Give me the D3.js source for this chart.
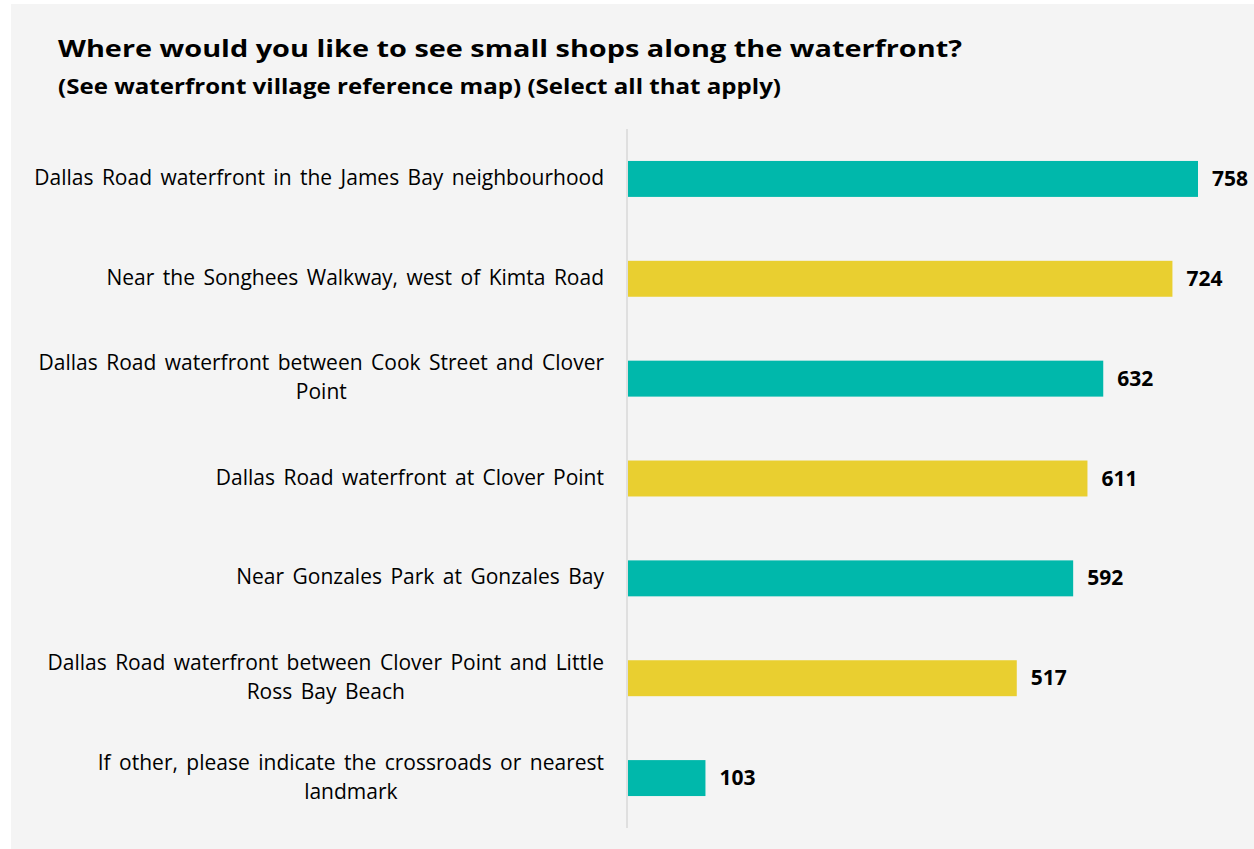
<!DOCTYPE html>
<html>
<head>
<meta charset="utf-8">
<script src="https://cdn.jsdelivr.net/npm/d3@7"></script>
<style>
  html, body { margin: 0; padding: 0; background: #ffffff; }
  svg { display: block; }
</style>
</head>
<body>
<svg id="chart" width="1254" height="849"></svg>
<script>
// Survey responses: preferred locations for small shops along the waterfront
const categories = [
  "Dallas Road waterfront in the James Bay neighbourhood",
  "Near the Songhees Walkway, west of Kimta Road",
  "Dallas Road waterfront between Cook Street and Clover Point",
  "Dallas Road waterfront at Clover Point",
  "Near Gonzales Park at Gonzales Bay",
  "Dallas Road waterfront between Clover Point and Little Ross Bay Beach",
  "If other, please indicate the crossroads or nearest landmark"
];
const counts = [758, 724, 632, 611, 592, 517, 103];
// Wrapped label lines, as set in the chart
const labelLines = [
  ["Dallas Road waterfront in the James Bay neighbourhood"],
  ["Near the Songhees Walkway, west of Kimta Road"],
  ["Dallas Road waterfront between Cook Street and Clover", "Point"],
  ["Dallas Road waterfront at Clover Point"],
  ["Near Gonzales Park at Gonzales Bay"],
  ["Dallas Road waterfront between Clover Point and Little", "Ross Bay Beach"],
  ["If other, please indicate the crossroads or nearest", "landmark"]
];
const barColors = ["#00b8ab", "#e9cf30"];

const title = "Where would you like to see small shops along the waterfront?";
const subtitle = "(See waterfront village reference map) (Select all that apply)";

const svg = d3.select("#chart");
const W = 1254, H = 849;
const fontFamily = "'Open Sans', 'Liberation Sans', sans-serif";

// panel background
svg.append("rect")
  .attr("x", 11).attr("y", 4)
  .attr("width", W - 11).attr("height", H - 4)
  .attr("fill", "#f4f4f4");

// titles (wide bold face: glyphs stretched to the heading width)
svg.append("text")
  .attr("x", 58).attr("y", 57)
  .attr("font-family", fontFamily)
  .attr("font-weight", 700)
  .attr("font-size", 24)
  .attr("textLength", 904)
  .attr("lengthAdjust", "spacingAndGlyphs")
  .attr("fill", "#000")
  .text(title);
svg.append("text")
  .attr("x", 58).attr("y", 94)
  .attr("font-family", fontFamily)
  .attr("font-weight", 700)
  .attr("font-size", 21)
  .attr("textLength", 723)
  .attr("lengthAdjust", "spacingAndGlyphs")
  .attr("fill", "#000")
  .text(subtitle);

const plot = { left: 627, top: 129, bottom: 828 };

const x = d3.scaleLinear()
  .domain([0, 758])
  .range([plot.left + 1, 1198]);

const y = d3.scaleBand()
  .domain(categories)
  .range([plot.top, plot.bottom])
  .paddingInner(0.64)
  .paddingOuter(0.32);

// bars
svg.append("g")
  .selectAll("rect")
  .data(categories)
  .join("rect")
  .attr("x", x(0))
  .attr("y", d => y(d))
  .attr("width", (d, i) => x(counts[i]) - x(0))
  .attr("height", y.bandwidth())
  .attr("fill", (d, i) => barColors[i % 2]);

// category axis line
svg.append("line")
  .attr("x1", plot.left).attr("x2", plot.left)
  .attr("y1", plot.top).attr("y2", plot.bottom)
  .attr("stroke", "#d9d9d9")
  .attr("stroke-width", 1.5);

// category labels: right-aligned block, lines centered within it
const labelG = svg.append("g")
  .attr("font-family", fontFamily)
  .attr("font-size", 21)
  .attr("word-spacing", 3)
  .attr("fill", "#000");

const lineH = 29;
const baseShift = 6;
categories.forEach((c, i) => {
  const lines = labelLines[i];
  const cy = y(c) + y.bandwidth() / 2;
  const y0 = cy + baseShift - (lines.length - 1) * lineH / 2;
  const t = labelG.append("text")
    .attr("text-anchor", "end")
    .attr("x", 604)
    .attr("y", y0)
    .text(lines[0]);
  if (lines.length > 1) {
    const w0 = t.node().getComputedTextLength();
    const center = 604 - w0 / 2;
    for (let k = 1; k < lines.length; k++) {
      labelG.append("text")
        .attr("text-anchor", "middle")
        .attr("x", center)
        .attr("y", y0 + k * lineH)
        .text(lines[k]);
    }
  }
});

// value labels
svg.append("g")
  .attr("font-family", fontFamily)
  .attr("font-weight", 700)
  .attr("font-size", 21)
  .attr("fill", "#000")
  .selectAll("text")
  .data(categories)
  .join("text")
  .attr("x", (d, i) => x(counts[i]) + 14)
  .attr("y", d => y(d) + y.bandwidth() / 2 + 7)
  .text((d, i) => counts[i]);
</script>
</body>
</html>
